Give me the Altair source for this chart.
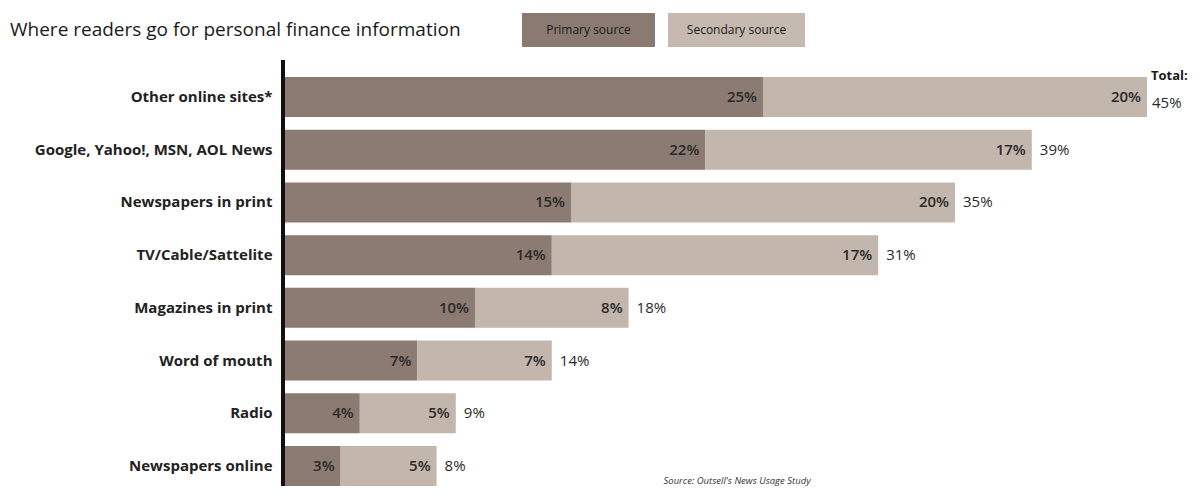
import altair as alt
import pandas as pd

categories = ["Other online sites*", "Google, Yahoo!, MSN, AOL News", "Newspapers in print",
              "TV/Cable/Sattelite", "Magazines in print", "Word of mouth", "Radio", "Newspapers online"]
primary = [25, 22, 15, 14, 10, 7, 4, 3]
secondary = [20, 17, 20, 17, 8, 7, 5, 5]
totals = [45, 39, 35, 31, 18, 14, 9, 8]
series_names = ["Primary source", "Secondary source"]
title_text = "Where readers go for personal finance information"
source_text = "Source: Outsell's News Usage Study"

PRIM = "#8b7b72"
SEC = "#c3b6ad"
FONT = "Open Sans"

rows = []
for c, p, s in zip(categories, primary, secondary):
    rows.append({"category": c, "series": series_names[0], "start": 0, "end": p, "label": f"{p}%"})
    rows.append({"category": c, "series": series_names[1], "start": p, "end": p + s, "label": f"{s}%"})
bars_df = pd.DataFrame(rows)
tot_df = pd.DataFrame({"category": categories, "total": totals,
                       "label": [f"{t}%" for t in totals]})

W, H = 864, 409
xscale = alt.Scale(domain=[0, 45], nice=False, zero=True)
yenc = alt.Y("category:N", sort=categories,
             scale=alt.Scale(paddingInner=0.241, paddingOuter=0),
             axis=alt.Axis(title=None, domain=False, ticks=False, labelFontSize=15,
                           labelFontWeight="bold", labelFont=FONT, labelColor="#222",
                           labelPadding=11, labelLimit=300))

bars = alt.Chart(bars_df).mark_bar(cornerRadius=0).encode(
    x=alt.X("start:Q", scale=xscale, axis=None),
    x2="end:Q",
    y=yenc,
    color=alt.Color("series:N", scale=alt.Scale(domain=series_names, range=[PRIM, SEC]), legend=None),
)

seg_labels = alt.Chart(bars_df).mark_text(align="right", baseline="middle", dx=-6,
                                          fontSize=15, font=FONT, fontWeight=600,
                                          color="#2a2a2a").encode(
    x=alt.X("end:Q", scale=xscale), y=yenc, text="label:N")

tot_base = alt.Chart(tot_df)
tot_first = tot_base.transform_filter(alt.datum.category == categories[0])
tot_rest = tot_base.transform_filter(alt.datum.category != categories[0])
tot_labels = tot_rest.mark_text(align="left", baseline="middle", dx=8, fontSize=15,
                                font=FONT, color="#2a2a2a").encode(
    x=alt.X("total:Q", scale=xscale), y=yenc, text="label:N")
tot_first_lbl = tot_first.mark_text(align="left", baseline="middle", dx=5, dy=6, fontSize=15,
                                    font=FONT, color="#2a2a2a").encode(
    x=alt.X("total:Q", scale=xscale), y=yenc, text="label:N")
tot_word = tot_first.mark_text(align="left", baseline="middle", dx=4, dy=-21, fontSize=13,
                               font=FONT, fontWeight="bold", color="#1a1a1a").encode(
    x=alt.X("total:Q", scale=xscale), y=yenc, text=alt.value("Total:"))

axis_line = alt.Chart(tot_df).mark_rule(color="#111", strokeWidth=3).encode(
    x=alt.value(0), y=alt.value(-17), y2=alt.value(H + 10))

leg_df = pd.DataFrame({"series": series_names})
leg_rect1 = alt.Chart(leg_df).transform_filter(alt.datum.series == series_names[0]).mark_rect(
    color="#8a7a71").encode(x=alt.value(239), x2=alt.value(372), y=alt.value(-64), y2=alt.value(-30))
leg_rect2 = alt.Chart(leg_df).transform_filter(alt.datum.series == series_names[1]).mark_rect(
    color="#c6b9b0").encode(x=alt.value(385), x2=alt.value(522), y=alt.value(-64), y2=alt.value(-30))
leg_txt1 = alt.Chart(leg_df).transform_filter(alt.datum.series == series_names[0]).mark_text(
    fontSize=12, font=FONT, color="#1a1a1a", align="center", baseline="middle").encode(
    x=alt.value(305.5), y=alt.value(-47), text="series:N")
leg_txt2 = alt.Chart(leg_df).transform_filter(alt.datum.series == series_names[1]).mark_text(
    fontSize=12, font=FONT, color="#1a1a1a", align="center", baseline="middle").encode(
    x=alt.value(453.5), y=alt.value(-47), text="series:N")

title = alt.Chart(leg_df).transform_filter(alt.datum.series == series_names[0]).mark_text(
    fontSize=19, font=FONT, fontWeight=500, color="#1a1a1a", align="left", baseline="middle").encode(
    x=alt.value(-273), y=alt.value(-47), text=alt.value(title_text))
source = alt.Chart(leg_df).transform_filter(alt.datum.series == series_names[0]).mark_text(
    fontSize=9.5, font=FONT, fontStyle="italic", color="#333", align="center",
    baseline="middle").encode(x=alt.value(454), y=alt.value(404), text=alt.value(source_text))

chart = alt.layer(bars, seg_labels, tot_labels, tot_first_lbl, tot_word, axis_line,
                  leg_rect1, leg_rect2, leg_txt1, leg_txt2, title, source).properties(
    width=W, height=H,
    autosize=alt.AutoSizeParams(type="none"),
    padding={"left": 275, "top": 69, "right": 45, "bottom": 0},
).configure_view(stroke=None)

chart.save("out.html", embed_options={"renderer": "svg", "actions": False})
